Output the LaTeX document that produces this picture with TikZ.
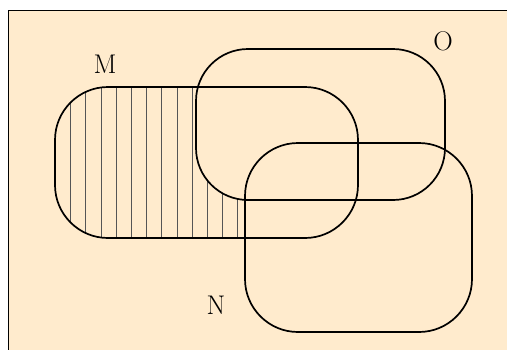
\documentclass[tikz,border=0pt]{standalone}
\usepackage{tikz}
\definecolor{Sand}{HTML}{FFEBCD}
\definecolor{Hatch}{HTML}{555555}
\tikzset{setline/.style={line width=1.7pt,rounded corners=53pt},
  setlab/.style={font=\fontsize{27}{30}\selectfont}}

\begin{document}
\begin{tikzpicture}[x=1pt,y=-1pt]
        \clip(0,0)rectangle(507,349);
        \fill[white](0,0)rectangle(507,349);
        \draw[fill=Sand,line width=1pt](8,10)rectangle(530,370);
        % hatched part: M only
        \begin{scope}
          \clip[rounded corners=53pt](55,87)rectangle(358,238);
          \foreach \x in {70.7,85.9,...,240}\draw[Hatch,line width=1pt](\x,80)--(\x,245);
        \end{scope}
        \fill[Sand,rounded corners=52pt](196,49)rectangle(445,200);
        \fill[Sand,rounded corners=53pt](245,143)rectangle(472,332);
        \draw[setline](55,87)rectangle(358,238);
        \draw[setline,rounded corners=52pt](196,49)rectangle(445,200);
        \draw[setline](245,143)rectangle(472,332);
        \node[setlab](labM)at(105,64){M};
        \node[setlab](labO)at(443,41){O};
        \node[setlab](labN)at(216,305){N};
      \end{tikzpicture}
\end{document}
